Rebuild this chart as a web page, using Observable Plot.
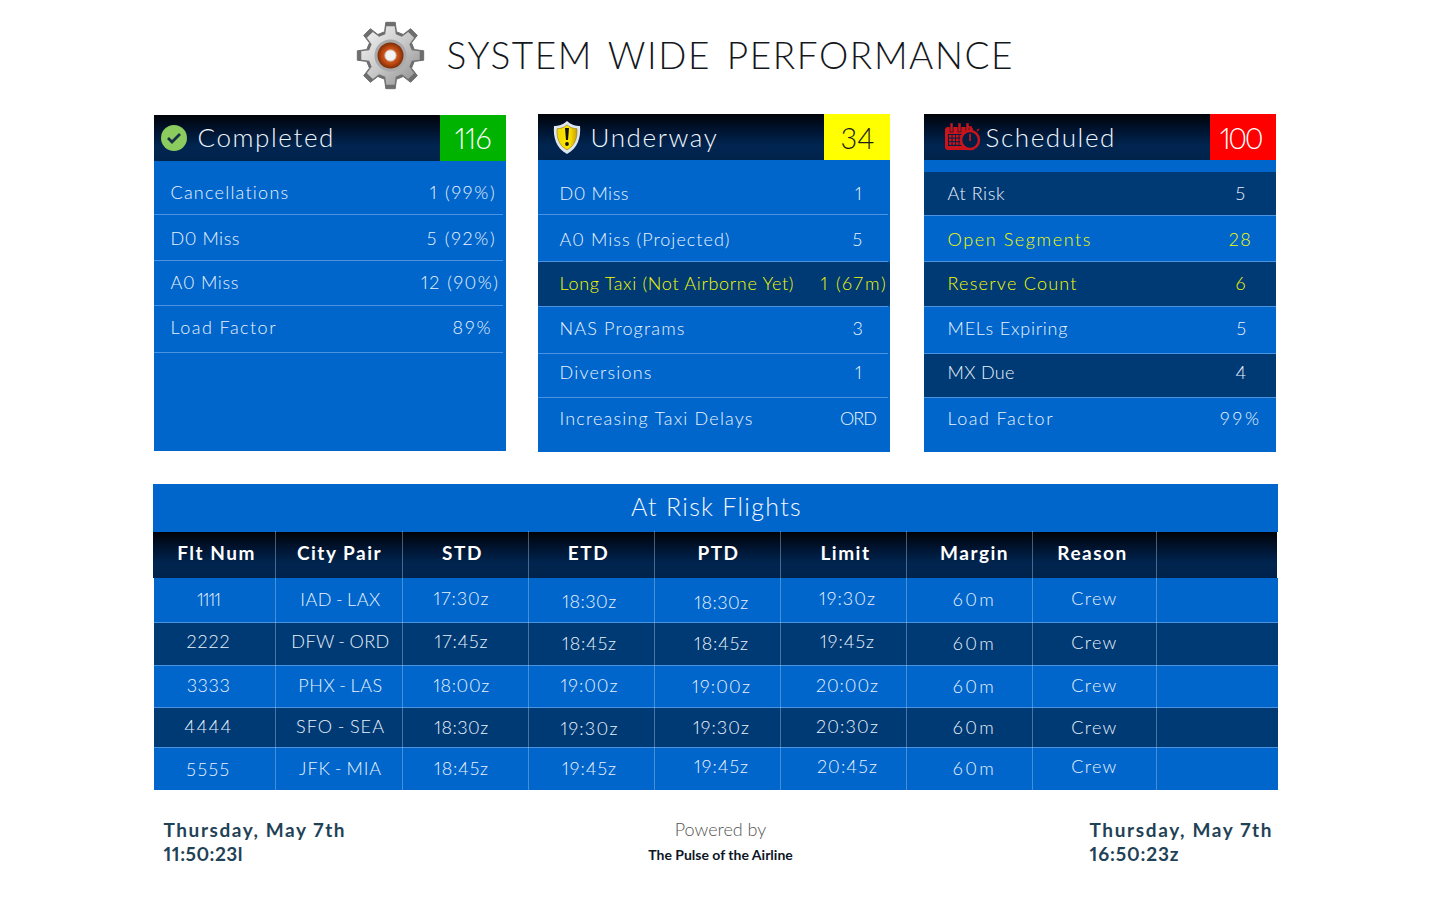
<!DOCTYPE html>
<html><head><meta charset="utf-8">
<script src="https://cdn.jsdelivr.net/npm/d3@7"></script>
<script src="https://cdn.jsdelivr.net/npm/@observablehq/plot@0.6"></script>
<style>
html,body{margin:0;padding:0;background:#fff;overflow:hidden}
svg{display:block}
svg text{font-feature-settings:"pnum" 1,"lnum" 1;font-variant-numeric:proportional-nums lining-nums}
.ls-title text{word-spacing:4px}
.ls-head text{letter-spacing:1.6px}
.ls-cell text{word-spacing:-1.5px}
.ls-bold text{letter-spacing:1.5px}
.ls-band text{letter-spacing:1.3px}
</style></head><body>
<div id="chart"></div>
<script>
// ---------- values ----------
const pageTitle = "SYSTEM WIDE PERFORMANCE";
const panelNames = ["Completed", "Underway", "Scheduled"];
const panelCounts = ["116", "34", "100"];

const completedLabels = ["Cancellations", "D0 Miss", "A0 Miss", "Load Factor"];
const completedValues = ["1 (99%)", "5 (92%)", "12 (90%)", "89%"];
const underwayLabels = ["D0 Miss", "A0 Miss (Projected)", "Long Taxi (Not Airborne Yet)", "NAS Programs", "Diversions", "Increasing Taxi Delays"];
const underwayValues = ["1", "5", "1 (67m)", "3", "1", "ORD"];
const scheduledLabels = ["At Risk", "Open Segments", "Reserve Count", "MELs Expiring", "MX Due", "Load Factor"];
const scheduledValues = ["5", "28", "6", "5", "4", "99%"];

const tableTitle = "At Risk Flights";
const tableColumns = ["Flt Num", "City Pair", "STD", "ETD", "PTD", "Limit", "Margin", "Reason"];
const fltNums = ["1111", "2222", "3333", "4444", "5555"];
const cityPairs = ["IAD - LAX", "DFW - ORD", "PHX - LAS", "SFO - SEA", "JFK - MIA"];
const stds = ["17:30z", "17:45z", "18:00z", "18:30z", "18:45z"];
const etds = ["18:30z", "18:45z", "19:00z", "19:30z", "19:45z"];
const ptds = ["18:30z", "18:45z", "19:00z", "19:30z", "19:45z"];
const limits = ["19:30z", "19:45z", "20:00z", "20:30z", "20:45z"];
const margins = ["60m", "60m", "60m", "60m", "60m"];
const reasons = ["Crew", "Crew", "Crew", "Crew", "Crew"];
const tableCells = [fltNums, cityPairs, stds, etds, ptds, limits, margins, reasons];

const footerDate = "Thursday, May 7th";
const footerLocal = "11:50:23l";
const footerZulu = "16:50:23z";
const poweredBy = "Powered by";
const poweredName = "The Pulse of the Airline";

// ---------- layout (separate from the values) ----------
const colors = {blue:"#0066cc", dark:"#003a75", line:"#4a93e0", white:"#eaf3fc", yellow:"#f5fb00", ink:"#1f4257"};
const panelX = [[154,506],[538,890],[924,1276]];
const headY = [[115,161],[114,160],[114,160]];
const bodyBottom = [451,452,452];
const badgeColors = ["#00b300","#ffff00","#ff0000"];
const badgeText = ["#ffffff","#1b1b1b","#ffffff"];
const nameX = [197,590,985];
const countX = [472.5,857,1240];
const countWidths = [37,34,44];

const layoutA = {labelX:170, rowY:[193,239,283,328], valueX:[496,496,499,492], rules:[214,260,305,352], ruleEnd:503, widths:[118,69,68,105]};
const layoutB = {labelX:559, rowY:[194,240,284,329,373,419], valueX:[857,857,853.5,857,857,857.5], rules:[214,261,306,353,397], ruleEnd:888, widths:[69,170,234,125,92,193]};
const layoutC = {labelX:947, rowY:[194,240,284,329,373,419], valueX:[1240,1240,1240,1241,1240,1240.5], rules:[215,261,306,353,397], ruleEnd:1276, widths:[57,143,129,120,67,105]};
const valueWidthsA = [65,68,77,38];
const valueWidthsB = [5,10,65,10,5,37,  10,22,10,10,10,39];
const bBands = [[262,306]];
const cBands = [[172,215],[262,306],[354,397]];

const tableX = [154,1278];
const columnRules = [275,402,528,654,780,906,1032,1156];
const headerCx = [216,339,462,588,718,845,974,1092];
const cellCx = [208,340,461,589,721,847,974,1094];
const cellY = [
  [600,642,686,727,770],[600,642,686,727,769],[599,642,686,728,769],[602,644,686,729,769],
  [603,644,687,728,767],[599,642,686,727,767],[600,644,687,728,769],[599,643,686,728,767]
];
const cellWidths = [
  [24,43,43,47,43],[80,98,84,88,82],[55,53,56,54,54],[54,54,57,57,54],
  [54,54,58,56,54],[56,54,62,62,60],[41,41,41,41,41],[45,45,45,45,45]
];
const rowEdges = [578,622,665,707,747,790];

// ---------- derived tables ----------
const rects = [];
panelX.forEach(([x1,x2],i)=>{
  rects.push({x1,x2,y1:headY[i][1],y2:bodyBottom[i],fill:colors.blue});
  rects.push({x1:x2-66,x2,y1:headY[i][0],y2:headY[i][1],fill:badgeColors[i]});
});
bBands.forEach(([y1,y2])=>rects.push({x1:538,x2:890,y1,y2,fill:colors.dark}));
cBands.forEach(([y1,y2])=>rects.push({x1:924,x2:1276,y1,y2,fill:colors.dark}));
rects.push({x1:153,x2:1278,y1:484,y2:532,fill:colors.blue});
fltNums.forEach((_,i)=>rects.push({x1:tableX[0],x2:tableX[1],y1:rowEdges[i],y2:rowEdges[i+1],fill:i%2?colors.dark:colors.blue}));

const heads = [
  {x1:154,x2:440,y1:115,y2:161},{x1:538,x2:824,y1:114,y2:160},{x1:924,x2:1210,y1:114,y2:160},{x1:153,x2:1277,y1:532,y2:578}
];
const ruleRows = [];
[[layoutA,154],[layoutB,538],[layoutC,924]].forEach(([l,x1])=>{
  l.rules.forEach(y=>ruleRows.push({x1,x2:l.ruleEnd,y}));
});
rowEdges.slice(1,-1).forEach(y=>ruleRows.push({x1:tableX[0],x2:tableX[1],y}));

const panelRows = (labels,values,l,hi=[])=>labels.map((t,i)=>({label:t,value:values[i],y:l.rowY[i],vx:l.valueX[i],lx:l.labelX,color:hi.includes(i)?colors.yellow:colors.white}));
const rowsA = panelRows(completedLabels,completedValues,layoutA);
const rowsB = panelRows(underwayLabels,underwayValues,layoutB,[2]);
const rowsC = panelRows(scheduledLabels,scheduledValues,layoutC,[1,2]);

const cells = tableCells.flatMap((col,c)=>col.map((t,r)=>({t,x:cellCx[c],y:cellY[c][r]})));

const body = "Lato, sans-serif";
const txt = (data,o)=>Plot.text(data,{lineAnchor:"middle",fontFamily:body,fontWeight:300,...o});

// ---------- icons and gradients ----------
function defs(){
  const s = d3.create("svg:defs");
  const g = s.append("linearGradient").attr("id","hdr").attr("x1",0).attr("x2",0).attr("y1",0).attr("y2",1);
  [[0,"#000308"],[.35,"#001430"],[.68,"#002550"],[1,"#00234b"]].forEach(([o,c])=>g.append("stop").attr("offset",o).attr("stop-color",c));
  const m = s.append("linearGradient").attr("id","metal").attr("x1",0).attr("x2",1).attr("y1",0).attr("y2",1);
  [[0,"#f6f6f6"],[.5,"#c9c9c9"],[1,"#8c8c8c"]].forEach(([o,c])=>m.append("stop").attr("offset",o).attr("stop-color",c));
  const r = s.append("radialGradient").attr("id","cop");
  [[.35,"#d8622a"],[.7,"#b8450f"],[1,"#7a2c08"]].forEach(([o,c])=>r.append("stop").attr("offset",o).attr("stop-color",c));
  const sh = s.append("linearGradient").attr("id","shield").attr("x1",0).attr("x2",1).attr("y1",0).attr("y2",0);
  [[0,"#f0d800"],[.6,"#ffe600"],[1,"#c9a000"]].forEach(([o,c])=>sh.append("stop").attr("offset",o).attr("stop-color",c));
  return s.node();
}
function gearPath(R,r,n){
  const p=[],w=Math.PI/n;
  for(let i=0;i<n;i++){
    const a=-Math.PI/2+i*2*w;
    const pts=[[r,a-w*.62],[R,a-w*.36],[R,a+w*.36],[r,a+w*.62]];
    pts.forEach(([q,t])=>p.push([q*Math.cos(t),q*Math.sin(t)]));
  }
  return "M"+p.map(d=>d.map(v=>v.toFixed(2)).join(",")).join("L")+"Z";
}
function gearIcon(){
  const g=d3.create("svg:g").attr("transform","translate(390.5,55.5)");
  g.append("path").attr("d",gearPath(33.5,24.5,8)).attr("fill","#6e6e6e").attr("stroke","#6e6e6e").attr("stroke-width",1).attr("stroke-linejoin","round");
  g.append("path").attr("d",gearPath(29.5,22,8)).attr("fill","url(#metal)").attr("stroke-linejoin","round");
  g.append("circle").attr("r",16).attr("fill","#a9a9a9");
  g.append("circle").attr("r",13).attr("fill","url(#cop)");
  g.append("circle").attr("r",5.6).attr("fill","#f4f4f4").attr("stroke","#d0c4bc");
  return g.node();
}
function checkIcon(){
  const g=d3.create("svg:g").attr("transform","translate(174,138)");
  g.append("circle").attr("r",13).attr("fill","#8ccb5e");
  g.append("path").attr("d","M-6,0L-2,4L6,-4").attr("fill","none").attr("stroke","#17304a").attr("stroke-width",2.8);
  return g.node();
}
function shieldIcon(){
  const g=d3.create("svg:g").attr("transform","translate(567,137)");
  const d=(k)=>`M0,${-16*k}C${4*k},${-12*k} ${9*k},${-11*k} ${13*k},${-11*k}C${14*k},${0} ${11*k},${11*k} 0,${17*k}C${-11*k},${11*k} ${-14*k},0 ${-13*k},${-11*k}C${-9*k},${-11*k} ${-4*k},${-12*k} 0,${-16*k}Z`;
  g.append("path").attr("d",d(1)).attr("fill","#dfe6f2");
  g.append("path").attr("d",d(.76)).attr("fill","url(#shield)").attr("stroke","#8a7a20").attr("stroke-width",.6);
  g.append("path").attr("d","M-2,-9L2,-9L1,3L-1,3Z").attr("fill","#111");
  g.append("circle").attr("cy",7).attr("r",1.9).attr("fill","#111");
  return g.node();
}
function calendarIcon(){
  const g=d3.create("svg:g").attr("transform","translate(945,123)");
  const red="#c8141a";
  g.append("rect").attr("x",0).attr("y",4).attr("width",28).attr("height",23).attr("rx",3).attr("fill",red);
  [5,13,21].forEach(x=>g.append("rect").attr("x",x).attr("y",0).attr("width",3).attr("height",9).attr("fill",red).attr("stroke","#001a3a").attr("stroke-width",.6));
  g.append("rect").attr("x",3).attr("y",11).attr("width",15).attr("height",12).attr("fill","#001f45");
  for(let r=0;r<3;r++)for(let c=0;c<4;c++)g.append("rect").attr("x",4+c*3.5).attr("y",12+r*3.6).attr("width",2.6).attr("height",2.6).attr("fill",red);
  g.append("circle").attr("cx",25).attr("cy",17).attr("r",9).attr("fill","#001f45").attr("stroke",red).attr("stroke-width",2.6);
  g.append("path").attr("d","M25,11V18").attr("stroke",red).attr("stroke-width",1.8);
  g.append("path").attr("d","M23,4H27M32,8L34,6").attr("stroke",red).attr("stroke-width",1.6);
  return g.node();
}

// ---------- the chart ----------
const chart = Plot.plot({
  width:1440, height:900, margin:0,
  x:{domain:[0,1440], range:[0,1440], axis:null},
  y:{domain:[0,900], range:[0,900], axis:null},
  color:{type:"identity"},
  style:{background:"#fff", overflow:"visible"},
  marks:[
    defs,
    Plot.rect(rects,{x1:"x1",x2:"x2",y1:"y1",y2:"y2",fill:"fill"}),
    Plot.rect(heads,{x1:"x1",x2:"x2",y1:"y1",y2:"y2",fill:"url(#hdr)"}),
    Plot.ruleY(ruleRows,{x1:"x1",x2:"x2",y:"y",stroke:colors.line,strokeWidth:1}),
    Plot.ruleX(columnRules,{x:d=>d,y1:531,y2:790,stroke:"#a8c8e8",strokeOpacity:.42,strokeWidth:1}),
    gearIcon, checkIcon, shieldIcon, calendarIcon,
    txt([pageTitle],{x:446,y:57,text:d=>d,textAnchor:"start",fontSize:37,fill:"#14181c",className:"fit-title ls-title"}),
    txt(panelNames.map((t,i)=>({t,x:nameX[i],y:138})),{x:"x",y:"y",text:"t",textAnchor:"start",fontSize:26,fill:"#f2f6fb",className:"ls-head"}),
    txt(panelCounts.map((t,i)=>({t,x:countX[i],y:139,c:badgeText[i]})),{x:"x",y:"y",text:"t",fontSize:29,fill:"c",className:"fit-count"}),
    txt([...rowsA,...rowsB,...rowsC],{x:"lx",y:"y",text:"label",textAnchor:"start",fontSize:18,fill:"color",className:"fit-label"}),
    txt(rowsA,{x:"vx",y:"y",text:"value",textAnchor:"end",fontSize:18,fill:"color",className:"fit-va"}),
    txt([...rowsB,...rowsC],{x:"vx",y:"y",text:"value",fontSize:18,fill:"color",className:"fit-vb"}),
    txt([tableTitle],{x:716,y:507,text:d=>d,fontSize:25,fill:"#f2f6fb",className:"ls-band"}),
    txt(tableColumns.map((t,i)=>({t,x:headerCx[i]})),{x:"x",y:553,text:"t",fontSize:19,fontWeight:700,fill:"#ffffff",className:"ls-bold"}),
    txt(cells,{x:"x",y:"y",text:"t",fontSize:18,fill:colors.white,className:"fit-cell ls-cell"}),
    txt([footerDate,footerLocal].map((t,i)=>({t,y:830+24*i})),{x:163,y:"y",text:"t",textAnchor:"start",fontSize:19,fontWeight:700,fill:colors.ink,className:"fit-fl"}),
    txt([footerDate,footerZulu].map((t,i)=>({t,y:830+24*i})),{x:1089,y:"y",text:"t",textAnchor:"start",fontSize:19,fontWeight:700,fill:colors.ink,className:"fit-fr"}),
    txt([poweredBy],{x:720,y:830,text:d=>d,fontSize:18,fill:"#555"}),
    txt([poweredName],{x:720,y:855,text:d=>d,fontSize:14,fontWeight:700,fill:"#0c1626"})
  ]
});
document.getElementById("chart").append(chart);

// Spread each text to the width it has in the reference (fonts differ).
function fit(cls, widths){
  d3.select(chart).selectAll("."+cls+" text").each(function(_,i){
    const n=this.textContent.length, w=widths[i];
    if(w==null) return;
    const natural=this.getComputedTextLength();
    this.style.letterSpacing=((w-natural)/Math.max(1,n-1))+"px";
  });
}
fit("fit-title",[566]);
fit("fit-count",countWidths);
fit("fit-label",[...layoutA.widths,...layoutB.widths,...layoutC.widths]);
fit("fit-va",valueWidthsA);
fit("fit-vb",valueWidthsB);
fit("fit-cell",cellWidths.flat());
fit("fit-fl",[181,79]);
fit("fit-fr",[182,89]);
</script>
</body></html>
